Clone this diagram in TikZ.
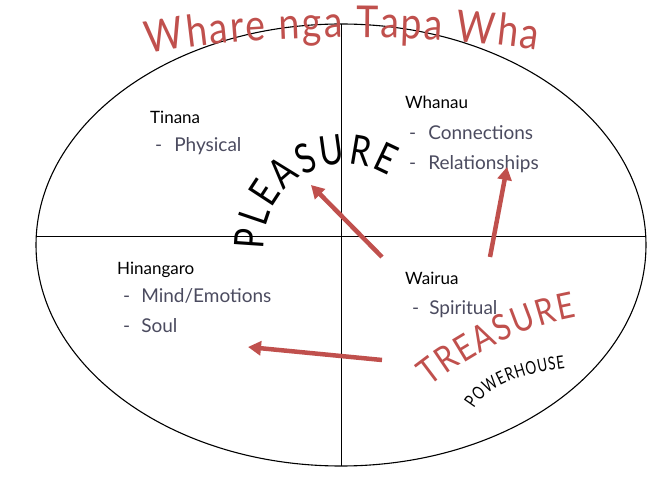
\documentclass[tikz,border=0pt]{standalone}
\usepackage{fontspec}
\setmainfont{Lato}
\newfontfamily\condfont[FakeStretch=0.85]{Lato}
\newfontfamily\pleafont[FakeStretch=0.8]{Lato}
\newfontfamily\narrowfont[FakeStretch=0.75]{Lato}
\usetikzlibrary{shapes.geometric,decorations.text,arrows.meta,calc}
\definecolor{tred}{RGB}{192,80,77}
\definecolor{itemcol}{RGB}{75,75,95}
\begin{document}
\begin{tikzpicture}[x=1pt,y=1pt,
  heading/.style={anchor=base west, font=\fontsize{17}{19}\selectfont, text=black, inner sep=0},
  item/.style={anchor=base west, font=\fontsize{19}{21}\selectfont, text=itemcol, inner sep=0},
  redarrow/.style={draw=tred, line width=4.5pt, -{Triangle[length=13pt,width=14pt]}},
  divider/.style={line width=0.9pt},
  ]
\useasboundingbox (0,0) rectangle (667,477);
\node[ellipse, draw, line width=1.1pt, minimum width=610pt, minimum height=442pt, inner sep=0, outer sep=0] (ell) at (341,232) {};
\draw[divider] (ell.north) -- (ell.south);
\draw[divider] ([yshift=9pt]ell.west) -- ([yshift=9pt]ell.east);

% title
\path[decorate, decoration={text along path, text={|\condfont\fontsize{44}{48}\selectfont|Whare nga Tapa Wha}, text align=fit to path, text color=tred}]
  (148,423) .. controls (250,444) and (430,444) .. (537,427);

% quadrant texts
\node[heading] (tin) at (150,353) {Tinana};
\node[item] (phy) at (155,325) {-\hspace{12pt}Physical};
\node[heading] (wha) at (405,368) {Whanau};
\node[item] (con) at (409,337) {-\hspace{12pt}Connections};
\node[item] (rel) at (409,307) {-\hspace{12pt}Relationships};
\node[heading] (hin) at (117,202) {Hinangaro};
\node[item] (mind) at (123,174) {-\hspace{11pt}Mind/Emotions};
\node[item] (soul) at (123,144) {-\hspace{11pt}Soul};
\node[heading] (wai) at (405,192) {Wairua};
\node[item] (spi) at (412,162) {-\hspace{10pt}Spiritual};

% PLEASURE
\coordinate (pc) at (345,232);
\path[decorate, decoration={text along path, text={|\pleafont\fontsize{41}{45}\selectfont|PLEASURE}, text align=fit to path, text color=black}]
  ($(pc)+(183:81)$) arc[start angle=183, end angle=58, radius=81];

% TREASURE
\path[decorate, decoration={text along path, text={|\condfont\fontsize{36}{40}\selectfont|TREASURE}, text align=fit to path, text color=tred}]
  (430,90) .. controls (468,120) and (520,150) .. (577,160);

% POWERHOUSE
\path[decorate, decoration={text along path, text={|\narrowfont\fontsize{18}{20}\selectfont|POWERHOUSE}, text align=fit to path, text color=black}]
  (474,68) .. controls (490,95) and (528,104) .. (565,109);

% arrows
\coordinate (a1s) at (382,220); \coordinate (a1e) at (311,292);
\coordinate (a2s) at (490,220); \coordinate (a2e) at (507,310);
\coordinate (a3s) at (382,117); \coordinate (a3e) at (248,130);
\draw[redarrow] (a1s) -- (a1e);
\draw[redarrow] (a2s) -- (a2e);
\draw[redarrow] (a3s) -- (a3e);
\end{tikzpicture}
\end{document}
